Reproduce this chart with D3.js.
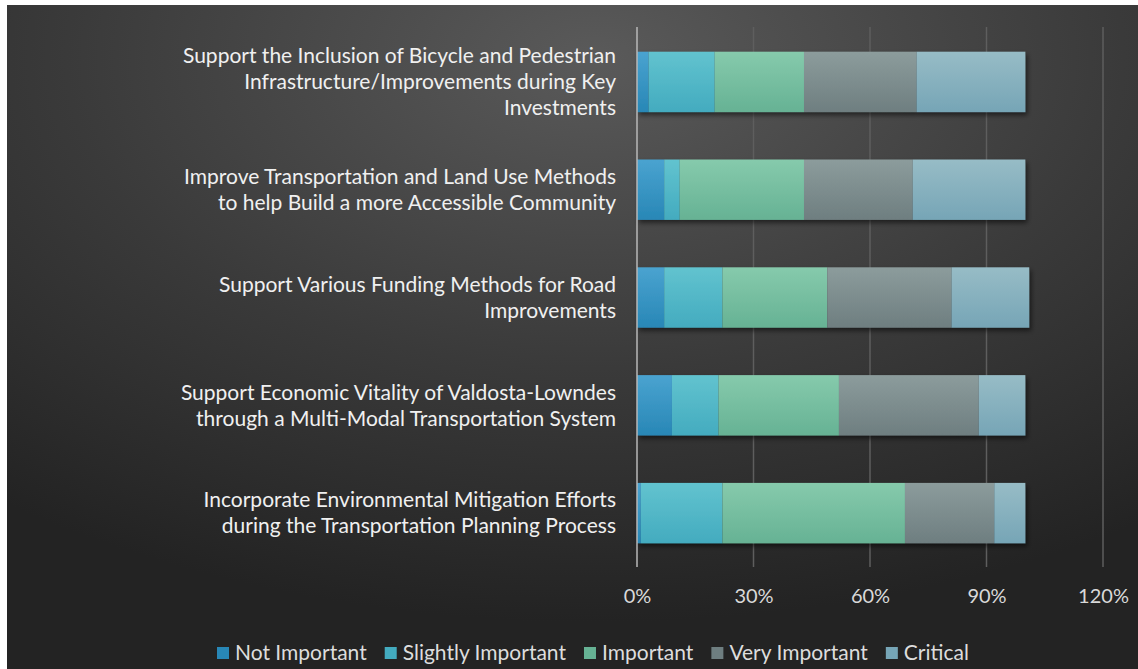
<!DOCTYPE html>
<html><head><meta charset="utf-8">
<script src="https://cdn.jsdelivr.net/npm/d3@7"></script>
<style>
html,body{margin:0;padding:0;background:#fff;}
svg{display:block;}
text{font-family:Lato, "Open Sans", sans-serif;}
</style></head>
<body>
<svg id="chart" width="1138" height="669"></svg>
<script>
const categories = [
  ["Support the Inclusion of Bicycle and Pedestrian", "Infrastructure/Improvements during Key", "Investments"],
  ["Improve Transportation and Land Use Methods", "to help Build a more Accessible Community"],
  ["Support Various Funding Methods for Road", "Improvements"],
  ["Support Economic Vitality of Valdosta-Lowndes", "through a Multi-Modal Transportation System"],
  ["Incorporate Environmental Mitigation Efforts", "during the Transportation Planning Process"]
];
const seriesNames = ["Not Important", "Slightly Important", "Important", "Very Important", "Critical"];
const notImportant      = [0.03, 0.07, 0.07, 0.09, 0.01];
const slightlyImportant = [0.17, 0.04, 0.15, 0.12, 0.21];
const important         = [0.23, 0.32, 0.27, 0.31, 0.47];
const veryImportant     = [0.29, 0.28, 0.32, 0.36, 0.23];
const critical          = [0.28, 0.29, 0.20, 0.12, 0.08];
const tickValues = [0, 0.3, 0.6, 0.9, 1.2];
const seriesColors = [
  ["#4aa3d0", "#2887b6"],
  ["#62c3cf", "#43abbf"],
  ["#86caac", "#66b294"],
  ["#8c9c9c", "#6e7e80"],
  ["#97bcc6", "#76a5b6"]
];

const seriesValues = [notImportant, slightlyImportant, important, veryImportant, critical];
const svg = d3.select("#chart");
const W = 1138, H = 669;

const defs = svg.append("defs");
const bg = defs.append("radialGradient").attr("id","bg")
  .attr("cx","52%").attr("cy","8%").attr("r","85%")
  .attr("gradientUnits","objectBoundingBox");
bg.append("stop").attr("offset","0%").attr("stop-color","#5a5a5a");
bg.append("stop").attr("offset","55%").attr("stop-color","#3a3a3a");
bg.append("stop").attr("offset","100%").attr("stop-color","#232323");

seriesColors.forEach((c,i)=>{
  const g = defs.append("linearGradient").attr("id","g"+i).attr("x1",0).attr("y1",0).attr("x2",0).attr("y2",1);
  g.append("stop").attr("offset","0%").attr("stop-color",c[0]);
  g.append("stop").attr("offset","100%").attr("stop-color",c[1]);
});
const f = defs.append("filter").attr("id","sh").attr("x","-5%").attr("y","-20%").attr("width","115%").attr("height","150%");
f.append("feDropShadow").attr("dx",2).attr("dy",3).attr("stdDeviation",2.5).attr("flood-color","#000").attr("flood-opacity",0.55);

svg.append("rect").attr("x",7).attr("y",5).attr("width",W-7).attr("height",H-5).attr("fill","url(#bg)");

const x = d3.scaleLinear().domain([0,1.2]).range([637,1103]);
const y = d3.scaleBand().domain(d3.range(categories.length)).range([28,567]).paddingInner(0.44).paddingOuter(0.22);

// gridlines
svg.append("g").selectAll("line").data(tickValues.slice(1)).join("line")
  .attr("x1",d=>x(d)).attr("x2",d=>x(d)).attr("y1",27).attr("y2",567)
  .attr("stroke","#5e5e5e").attr("stroke-width",1.5);

// axis
const axis = d3.axisBottom(x).tickValues(tickValues).tickFormat(d3.format(".0%")).tickSize(0).tickPadding(0);
const ax = svg.append("g").attr("transform","translate(0,590)").call(axis);
ax.select(".domain").remove();
ax.selectAll("text").attr("fill","#d9d9d9").attr("font-size","20px").attr("dy","0.32em").attr("y",7)
  .style("font-family","Lato, sans-serif");

// stacked
const rows = categories.map((c,i)=>{ const o={i}; seriesNames.forEach((s,j)=>o[s]=seriesValues[j][i]); return o; });
const stacked = d3.stack().keys(seriesNames)(rows);

const barsG = svg.append("g").attr("filter","url(#sh)");
barsG.selectAll("g").data(stacked).join("g")
  .attr("fill",(d,i)=>`url(#g${i})`)
  .selectAll("rect").data(d=>d).join("rect")
  .attr("x",d=>x(d[0])).attr("width",d=>x(d[1])-x(d[0]))
  .attr("y",d=>y(d.data.i)).attr("height",y.bandwidth());

// 0% axis line
svg.append("line").attr("x1",x(0)).attr("x2",x(0)).attr("y1",27).attr("y2",567)
  .attr("stroke","#b8b8b8").attr("stroke-width",1.5);

// category labels
const lh = 26;
const lab = svg.append("g");
categories.forEach((lines,i)=>{
  const cy = y(i)+y.bandwidth()/2;
  const t = lab.append("text").attr("text-anchor","end").attr("fill","#f0f0f0").attr("font-size","21px");
  lines.forEach((ln,k)=>{
    t.append("tspan").attr("x",616).attr("y",cy+(k-(lines.length-1)/2)*lh).attr("dy","0.35em").text(ln);
  });
});

// legend
const leg = svg.append("g").attr("transform","translate(0,653)");
let lx = 217;
seriesNames.forEach((s,i)=>{
  leg.append("rect").attr("x",lx).attr("y",-6).attr("width",12).attr("height",12).attr("fill",seriesColors[i][1]);
  const t = leg.append("text").attr("x",lx+18).attr("y",0).attr("dy","0.35em").attr("fill","#dddddd").attr("font-size","21px").text(s);
  lx += 18 + t.node().getComputedTextLength() + 18;
});
</script>
</body></html>
